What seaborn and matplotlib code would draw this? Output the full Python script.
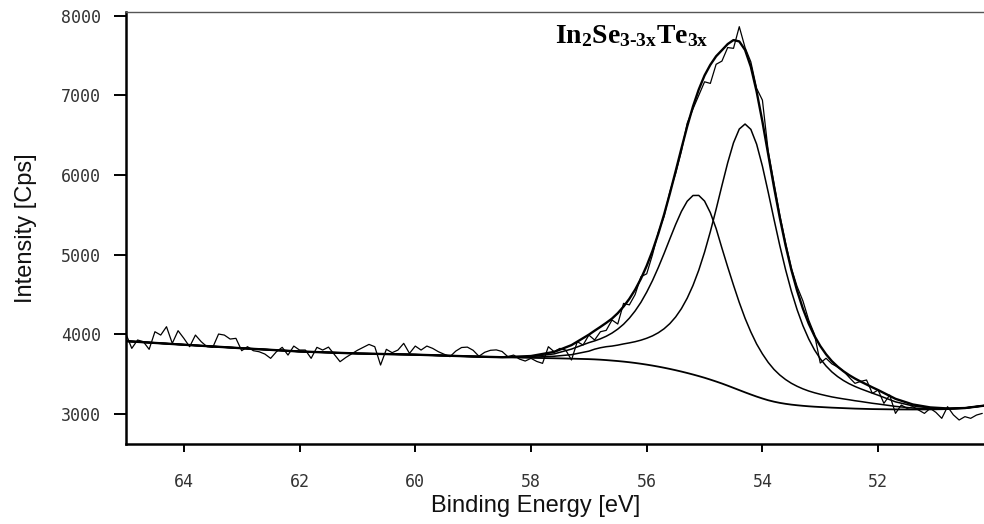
import numpy as np
import pandas as pd
import matplotlib
matplotlib.use("Agg")
import matplotlib.pyplot as plt
import seaborn as sns

# ---- measured spectrum: counts every 0.1 eV, from 65.0 eV down to 50.2 eV ----
raw_start = 65.0
raw_step = 0.1
raw_counts = [
    4004, 3824, 3929, 3908, 3812, 4033, 3991, 4096, 3887, 4046,
    3950, 3845, 3991, 3908, 3845, 3837, 4004, 3991, 3941, 3950,
    3795, 3845, 3795, 3782, 3753, 3699, 3782, 3837, 3740, 3853,
    3803, 3803, 3699, 3837, 3803, 3840, 3749, 3657, 3710, 3755,
    3800, 3837, 3874, 3845, 3615, 3812, 3770, 3803, 3887, 3761,
    3853, 3803, 3853, 3824, 3782, 3750, 3720, 3790, 3835, 3840,
    3800, 3725, 3775, 3800, 3805, 3785, 3720, 3740, 3690, 3665,
    3699, 3660, 3636, 3845, 3782, 3824, 3803, 3678, 3908, 3866,
    3991, 3929, 4033, 4050, 4180, 4130, 4389, 4370, 4500, 4723,
    4760, 5000, 5280, 5480, 5790, 6020, 6300, 6650, 6830, 7000,
    7170, 7150, 7390, 7430, 7600, 7590, 7862, 7600, 7420, 7087,
    6940, 6300, 5900, 5500, 5150, 4830, 4600, 4420, 4180, 4000,
    3640, 3700, 3630, 3590, 3540, 3460, 3385, 3410, 3427, 3259,
    3301, 3134, 3238, 3008, 3113, 3071, 3092, 3050, 3008, 3071,
    3020, 2946, 3092, 2990, 2925, 2967, 2946, 2987, 3008,
]

# ---- peak fit: background and the two component peaks (net counts) ----
fit_energy = [
    65.0, 64.0, 63.0, 62.0, 61.0, 60.0, 59.0, 58.5, 58.0, 57.6, 57.3, 57.0,
    56.9, 56.8, 56.7, 56.6, 56.5, 56.4, 56.3, 56.2, 56.1, 56.0,
    55.9, 55.8, 55.7, 55.6, 55.5, 55.4, 55.3, 55.2, 55.1, 55.0,
    54.9, 54.8, 54.7, 54.6, 54.5, 54.4, 54.3, 54.2, 54.1, 54.0,
    53.9, 53.8, 53.7, 53.6, 53.5, 53.4, 53.3, 53.2, 53.1, 53.0,
    52.9, 52.8, 52.7, 52.6, 52.5, 52.4, 52.3, 52.2, 52.1, 52.0,
    51.7, 51.4, 51.1, 50.8, 50.5, 50.17,
]
background = [
    3915, 3870, 3826, 3785, 3760, 3745, 3722, 3713, 3705, 3700, 3695, 3689,
    3686, 3682, 3677, 3671, 3665, 3658, 3650, 3641, 3631, 3620,
    3608, 3595, 3581, 3566, 3550, 3533, 3515, 3496, 3476, 3455,
    3432, 3408, 3383, 3356, 3328, 3300, 3272, 3245, 3219, 3195,
    3173, 3155, 3140, 3128, 3118, 3110, 3103, 3097, 3092, 3088,
    3084, 3080, 3077, 3074, 3071, 3068, 3066, 3064, 3062, 3061,
    3058, 3057, 3058, 3062, 3075, 3105,
]
peak_high_be = [
    0, 0, 0, 0, 0, 0, 0, 0, 15, 55, 120, 207,
    232, 262, 299, 345, 401, 469, 553, 653, 771, 910,
    1067, 1243, 1433, 1632, 1829, 2010, 2156, 2247, 2268, 2218,
    2095, 1920, 1700, 1490, 1290, 1100, 930, 785, 660, 560,
    475, 405, 350, 305, 268, 238, 213, 192, 175, 160,
    147, 135, 125, 116, 108, 99, 91, 82, 73, 65,
    38, 18, 7, 2, 0, 0,
]
peak_low_be = [
    0, 0, 0, 0, 0, 0, 0, 0, 8, 25, 50, 100,
    128, 150, 168, 182, 200, 222, 243, 267, 296, 331,
    373, 425, 489, 569, 668, 790, 939, 1118, 1330, 1577,
    1857, 2163, 2484, 2798, 3076, 3277, 3368, 3328, 3168, 2916,
    2612, 2290, 1976, 1685, 1425, 1199, 1006, 846, 713, 606,
    519, 449, 393, 347, 309, 278, 250, 225, 200, 175,
    95, 45, 18, 6, 0, 0,
]

x_ticks = [64, 62, 60, 58, 56, 54, 52]
y_ticks = [3000, 4000, 5000, 6000, 7000, 8000]

# ---- tables ----
raw = pd.DataFrame({
    "energy": raw_start - raw_step * np.arange(len(raw_counts)),
    "counts": raw_counts,
})
bg = np.array(background, dtype=float)
pa = np.array(peak_high_be, dtype=float)
pb = np.array(peak_low_be, dtype=float)
fit = pd.DataFrame({
    "energy": fit_energy,
    "background": bg,
    "component_1": bg + pa,
    "component_2": bg + pb,
    "envelope": bg + pa + pb,
})

# ---- style ----
sns.set_style("ticks")
plt.rcParams.update({
    "font.family": ["Liberation Sans", "DejaVu Sans"],
    "mathtext.fontset": "custom",
    "mathtext.rm": "Liberation Serif:bold",
    "mathtext.it": "Liberation Serif:bold",
    "mathtext.bf": "Liberation Serif:bold",
    "mathtext.default": "rm",
})

fig = plt.figure(figsize=(9.84, 5.24), dpi=100)
ax = fig.add_axes([126 / 984, 1 - 444.3 / 524, 858 / 984, 432.6 / 524])

sns.lineplot(data=raw, x="energy", y="counts", ax=ax, color="black",
             linewidth=0.9, estimator=None, sort=False, legend=False)
for col, lw in [("background", 1.3), ("component_1", 1.1),
                ("component_2", 1.1), ("envelope", 1.7)]:
    sns.lineplot(data=fit, x="energy", y=col, ax=ax, color="black",
                 linewidth=lw, estimator=None, sort=False, legend=False)

ax.set_xlim(65.0, 50.17)
ax.set_ylim(2620, 8050)
ax.set_xticks(x_ticks)
ax.set_yticks(y_ticks)
ax.set_xticklabels([str(t) for t in x_ticks])
ax.set_yticklabels([str(t) for t in y_ticks])

ax.tick_params(axis="both", which="major", direction="out", width=1.4,
               color="black", labelcolor="#333333", labelsize=12,
               labelfontfamily="DejaVu Sans Mono")
ax.tick_params(axis="y", length=9, pad=9)
ax.tick_params(axis="x", length=6, pad=15)

ax.spines["right"].set_visible(False)
ax.spines["top"].set_linewidth(1.0)
ax.spines["top"].set_color("#555555")
for side in ("left", "bottom"):
    ax.spines[side].set_linewidth(1.8)
    ax.spines[side].set_color("black")

ax.set_xlabel("Binding Energy [eV]", fontsize=17, color="#111111")
ax.set_ylabel("Intensity [Cps]", fontsize=17, color="#111111")
ax.xaxis.set_label_coords(0.477, -0.117)
ax.yaxis.set_label_coords(-0.104, 0.5)

ax.text(0.5, 0.928, r"$In_{2}Se_{3\text{-}3x}Te_{3x}$", transform=ax.transAxes,
        fontsize=20, ha="left", va="baseline", color="black")

fig.savefig("out.png", dpi=100)
